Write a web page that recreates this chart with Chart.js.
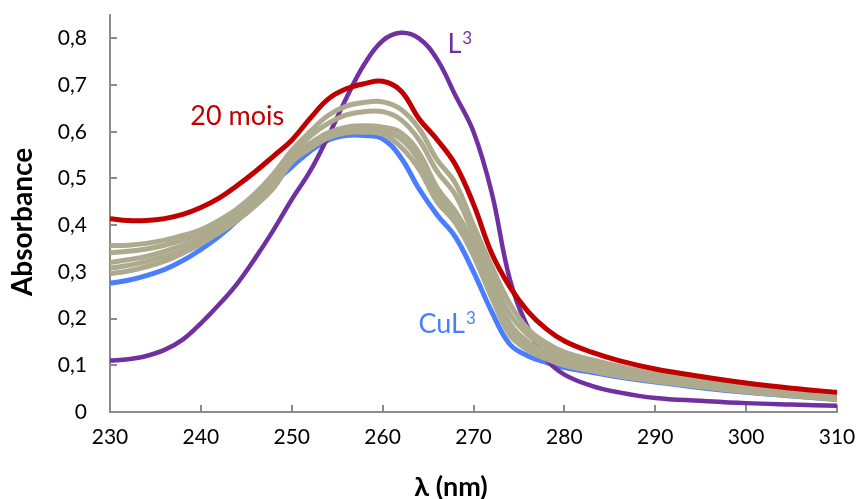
<!DOCTYPE html>
<html>
<head>
<meta charset="utf-8">
<script src="https://cdn.jsdelivr.net/npm/chart.js@4.4.1/dist/chart.umd.min.js"></script>
<style>
  html, body { margin: 0; padding: 0; background: #fff; }
</style>
</head>
<body>
<canvas id="absChart" width="858" height="499"></canvas>
<script>
// wavelengths (nm) at which the spectra were read
const wavelengths = [230, 232, 234, 236, 238, 240, 242, 244, 246, 248, 250, 252, 254, 256, 258, 260, 262, 264, 266, 268, 270, 272, 274, 276, 278, 280, 283, 286, 290, 295, 300, 305, 310];

const ligandL3 = [0.110, 0.113, 0.120, 0.133, 0.155, 0.190, 0.230, 0.275, 0.330, 0.390, 0.455, 0.515, 0.590, 0.672, 0.745, 0.795, 0.812, 0.800, 0.755, 0.678, 0.600, 0.470, 0.284, 0.180, 0.113, 0.080, 0.056, 0.042, 0.030, 0.024, 0.019, 0.016, 0.0135];
const after20Months = [0.414, 0.410, 0.410, 0.414, 0.423, 0.438, 0.458, 0.485, 0.515, 0.548, 0.582, 0.628, 0.670, 0.692, 0.703, 0.708, 0.688, 0.628, 0.583, 0.530, 0.445, 0.340, 0.268, 0.215, 0.178, 0.152, 0.128, 0.110, 0.092, 0.076, 0.062, 0.051, 0.042];
const complexCuL3 = [0.276, 0.282, 0.292, 0.305, 0.324, 0.348, 0.376, 0.410, 0.450, 0.490, 0.525, 0.558, 0.582, 0.592, 0.592, 0.585, 0.545, 0.478, 0.422, 0.375, 0.300, 0.215, 0.145, 0.120, 0.106, 0.095, 0.085, 0.075, 0.064, 0.052, 0.042, 0.034, 0.027];

// intermediate spectra (grey-khaki curves)
const interm1 = [0.356, 0.357, 0.361, 0.368, 0.378, 0.390, 0.410, 0.435, 0.468, 0.510, 0.560, 0.600, 0.635, 0.655, 0.663, 0.664, 0.648, 0.607, 0.540, 0.490, 0.400, 0.312, 0.232, 0.178, 0.148, 0.128, 0.112, 0.098, 0.082, 0.068, 0.056, 0.046, 0.038];
const interm2 = [0.341, 0.344, 0.349, 0.357, 0.368, 0.383, 0.403, 0.430, 0.462, 0.503, 0.553, 0.590, 0.618, 0.636, 0.643, 0.643, 0.626, 0.583, 0.515, 0.465, 0.380, 0.290, 0.210, 0.165, 0.138, 0.120, 0.105, 0.092, 0.078, 0.064, 0.052, 0.043, 0.035];
const interm3 = [0.320, 0.326, 0.333, 0.344, 0.357, 0.372, 0.394, 0.420, 0.452, 0.490, 0.545, 0.575, 0.598, 0.610, 0.613, 0.610, 0.598, 0.555, 0.480, 0.430, 0.360, 0.269, 0.190, 0.150, 0.127, 0.110, 0.097, 0.085, 0.073, 0.060, 0.048, 0.040, 0.032];
const interm4 = [0.308, 0.314, 0.322, 0.333, 0.347, 0.366, 0.389, 0.415, 0.447, 0.485, 0.540, 0.569, 0.592, 0.604, 0.606, 0.602, 0.585, 0.538, 0.465, 0.415, 0.345, 0.255, 0.175, 0.140, 0.120, 0.105, 0.092, 0.080, 0.069, 0.057, 0.045, 0.037, 0.029];
const interm5 = [0.296, 0.302, 0.311, 0.323, 0.340, 0.360, 0.384, 0.410, 0.442, 0.480, 0.535, 0.564, 0.587, 0.598, 0.599, 0.595, 0.568, 0.520, 0.450, 0.405, 0.335, 0.245, 0.165, 0.132, 0.114, 0.100, 0.088, 0.077, 0.066, 0.054, 0.043, 0.035, 0.027];

const xTicks = [230, 240, 250, 260, 270, 280, 290, 300, 310];
const yTicks = [0, 0.1, 0.2, 0.3, 0.4, 0.5, 0.6, 0.7, 0.8];

const PURPLE = '#7030A0';
const RED = '#C00000';
const BLUE = '#4A7EFF';
const KHAKI = '#ADAA8D';
const AXIS = '#8C8C8C';
const FONT = 'Lato, "Open Sans", sans-serif';

function toPoints(values) {
    return wavelengths.map((w, i) => ({ x: w, y: values[i] }));
}

function makeSet(label, values, color, order, width) {
    return {
        label: label,
        data: toPoints(values),
        borderColor: color,
        borderWidth: width,
        borderJoinStyle: 'round',
        pointRadius: 0,
        fill: false,
        tension: 0.4,
        order: order
    };
}

// text with a raised "3" like the Office superscript
function drawSup(ctx, base, sup, cx, cy, color) {
    ctx.fillStyle = color;
    ctx.font = '27px ' + FONT;
    const wBase = ctx.measureText(base).width;
    ctx.font = '17px ' + FONT;
    const wSup = ctx.measureText(sup).width;
    const left = cx - (wBase + wSup + 1) / 2;
    ctx.textAlign = 'left';
    ctx.font = '27px ' + FONT;
    ctx.fillText(base, left, cy);
    ctx.font = '17px ' + FONT;
    ctx.fillText(sup, left + wBase + 1, cy - 6);
    ctx.textAlign = 'center';
}

const decorations = {
    id: 'decorations',
    beforeDatasetsDraw(chart) {
        const { ctx, scales: { x, y } } = chart;
        ctx.save();
        ctx.strokeStyle = AXIS;
        ctx.lineWidth = 2;
        ctx.beginPath();
        yTicks.forEach((v) => {
            const py = Math.round(y.getPixelForValue(v));
            ctx.moveTo(x.left, py);
            ctx.lineTo(x.left + 7, py);
        });
        xTicks.forEach((v) => {
            const px = Math.round(x.getPixelForValue(v));
            ctx.moveTo(px, y.bottom);
            ctx.lineTo(px, y.bottom - 7);
        });
        ctx.stroke();
        ctx.restore();
    },
    afterDraw(chart) {
        const { ctx, scales: { x, y } } = chart;
        ctx.save();
        ctx.textBaseline = 'middle';
        ctx.textAlign = 'center';

        ctx.font = '27px ' + FONT;
        ctx.fillStyle = RED;
        ctx.fillText('20 mois', x.getPixelForValue(244), y.getPixelForValue(0.633));
        drawSup(ctx, 'L', '3', x.getPixelForValue(268.5), y.getPixelForValue(0.787), PURPLE);
        drawSup(ctx, 'CuL', '3', x.getPixelForValue(267.1), y.getPixelForValue(0.187), BLUE);

        ctx.fillStyle = '#000';
        ctx.font = 'bold 27px ' + FONT;
        ctx.fillText('λ (nm)', 451, 487);

        ctx.translate(23, 222);
        ctx.rotate(-Math.PI / 2);
        ctx.font = 'bold 28px ' + FONT;
        ctx.fillText('Absorbance', 0, 0);
        ctx.restore();
    }
};

const ctx = document.getElementById('absChart').getContext('2d');
const absChart = new Chart(ctx, {
    type: 'line',
    data: {
        datasets: [
            makeSet('CuL3', complexCuL3, BLUE, 4, 5),
            makeSet('L3', ligandL3, PURPLE, 3, 4.5),
            makeSet('i5', interm5, KHAKI, 2, 5),
            makeSet('i4', interm4, KHAKI, 2, 5),
            makeSet('i3', interm3, KHAKI, 2, 5),
            makeSet('i2', interm2, KHAKI, 2, 5),
            makeSet('i1', interm1, KHAKI, 2, 5),
            makeSet('20 mois', after20Months, RED, 1, 5)
        ]
    },
    options: {
        responsive: false,
        animation: false,
        layout: { padding: { top: 15, right: 21, left: 0, bottom: 0 } },
        plugins: {
            legend: { display: false },
            tooltip: { enabled: false }
        },
        scales: {
            x: {
                type: 'linear',
                min: 230,
                max: 310,
                grid: { display: false, drawTicks: false },
                border: { display: true, color: AXIS, width: 2 },
                ticks: {
                    stepSize: 10,
                    padding: 13,
                    color: '#000',
                    font: { family: FONT, size: 21 },
                    maxRotation: 0,
                    callback: (v) => String(v)
                },
                afterFit: (scale) => {
                    scale.height = 87;
                    scale.paddingLeft = 0;
                    scale.paddingRight = 0;
                }
            },
            y: {
                min: 0,
                max: 0.85,
                grid: { display: false, drawTicks: false },
                border: { display: true, color: AXIS, width: 2 },
                ticks: {
                    stepSize: 0.1,
                    includeBounds: false,
                    padding: 23,
                    color: '#000',
                    font: { family: FONT, size: 21 },
                    callback: (v) => v === 0 ? '0' : v.toFixed(1).replace('.', ',')
                },
                afterFit: (scale) => {
                    scale.width = 110;
                    scale.paddingTop = 0;
                    scale.paddingBottom = 0;
                }
            }
        }
    },
    plugins: [decorations]
});
</script>
</body>
</html>
